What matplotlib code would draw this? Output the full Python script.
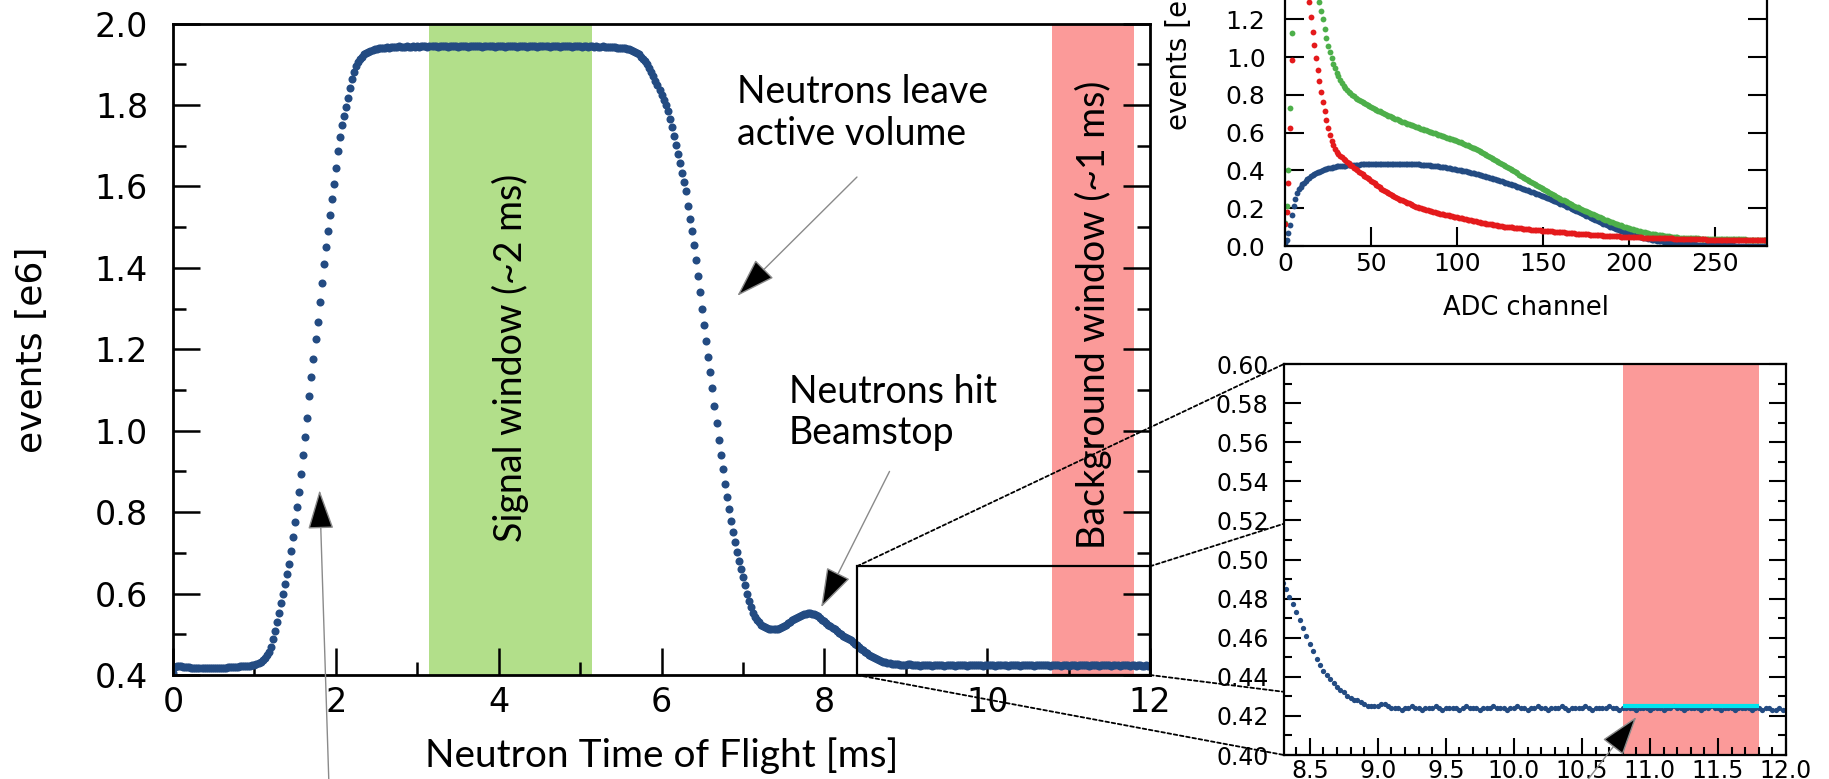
import numpy as np
import matplotlib
matplotlib.use("Agg")
import matplotlib.pyplot as plt
from matplotlib.patches import Rectangle, ConnectionPatch
from matplotlib.ticker import MultipleLocator, FormatStrFormatter

plt.rcParams['font.family'] = ['DejaVu Sans']

# ---------------- data ----------------
# neutron time of flight spectrum, 25 us bins starting at 0, counts in 1e3 events
bin_ms = 0.025
tof_counts = [
    405, 419, 421, 422, 421, 420, 420, 419, 419, 418,
    418, 418, 417, 417, 417, 417, 416, 416, 417, 417,
    417, 417, 418, 417, 418, 418, 418, 419, 419, 419,
    420, 420, 420, 421, 421, 422, 422, 423, 423, 424,
    425, 427, 430, 433, 437, 442, 448, 457, 470, 488,
    508, 530, 553, 576, 600, 624, 648, 673, 704, 738,
    775, 812, 850, 893, 940, 984, 1032, 1085, 1132, 1176,
    1224, 1268, 1315, 1362, 1410, 1452, 1490, 1530, 1570, 1606,
    1644, 1688, 1722, 1750, 1774, 1795, 1818, 1842, 1864, 1882,
    1896, 1906, 1913, 1919, 1924, 1928, 1931, 1933, 1935, 1937,
    1938, 1939, 1940, 1941, 1941, 1942, 1941, 1942, 1943, 1942,
    1943, 1944, 1943, 1942, 1943, 1944, 1943, 1943, 1944, 1943,
    1944, 1943, 1944, 1945, 1944, 1943, 1944, 1944, 1945, 1944,
    1943, 1944, 1945, 1944, 1944, 1943, 1944, 1945, 1945, 1944,
    1943, 1944, 1944, 1945, 1944, 1943, 1944, 1945, 1944, 1944,
    1945, 1944, 1943, 1944, 1944, 1945, 1944, 1944, 1943, 1944,
    1944, 1945, 1944, 1943, 1944, 1944, 1945, 1944, 1944, 1943,
    1944, 1945, 1944, 1944, 1943, 1944, 1944, 1945, 1944, 1943,
    1944, 1944, 1945, 1944, 1944, 1943, 1944, 1945, 1944, 1944,
    1943, 1944, 1944, 1945, 1944, 1944, 1943, 1944, 1944, 1944,
    1944, 1943, 1944, 1944, 1943, 1944, 1944, 1943, 1944, 1943,
    1943, 1944, 1943, 1943, 1942, 1943, 1942, 1942, 1941, 1941,
    1940, 1940, 1939, 1938, 1937, 1935, 1933, 1931, 1928, 1924,
    1919, 1914, 1908, 1900, 1891, 1881, 1870, 1859, 1848, 1837,
    1825, 1813, 1800, 1785, 1765, 1745, 1723, 1702, 1680, 1658,
    1634, 1610, 1588, 1553, 1520, 1490, 1455, 1420, 1380, 1340,
    1300, 1260, 1220, 1180, 1145, 1105, 1060, 1018, 978, 940,
    905, 870, 838, 808, 778, 752, 727, 703, 680, 660,
    640, 620, 600, 582, 566, 553, 543, 535, 529, 524,
    520, 517, 515, 513, 512, 512, 512, 513, 515, 517,
    520, 523, 527, 530, 534, 537, 540, 543, 546, 548,
    550, 551, 552, 552, 551, 550, 547, 544, 540, 536,
    532, 528, 524, 520, 516, 512, 508, 504, 501, 497,
    494, 491, 488, 485, 481, 477, 473, 469, 465, 461,
    457, 453, 449, 446, 443, 441, 439, 437, 435, 433,
    432, 430, 429, 428, 428, 427, 426, 425, 425, 425,
    425, 426, 426, 425, 424, 424, 424, 423, 424, 424,
    425, 424, 424, 423, 424, 424, 424, 425, 424, 423,
    424, 424, 424, 424, 423, 424, 425, 424, 424, 424,
    423, 424, 424, 424, 425, 424, 424, 424, 423, 424,
    424, 425, 424, 424, 423, 424, 424, 425, 424, 424,
    423, 424, 424, 424, 425, 424, 423, 424, 424, 424,
    424, 425, 424, 423, 424, 424, 424, 424, 425, 424,
    424, 423, 424, 424, 424, 424, 423, 424, 424, 424,
    423, 424, 424, 424, 423, 424, 424, 425, 424, 424,
    423, 424, 424, 424, 424, 423, 424, 424, 425, 424,
    424, 423, 424, 424, 424, 423, 424, 424, 424, 424,
    423, 424, 424, 423, 424, 424, 423, 423, 424, 423,
    423,
]

# pulse height spectra, one value per ADC channel 0..280, in 1e3 events
adc_signal_window = [
    120, 212, 402, 728, 1125, 1480, 1740, 1890, 1950, 1960,
    1930, 1880, 1820, 1750, 1680, 1610, 1540, 1470, 1410, 1350,
    1290, 1245, 1200, 1150, 1100, 1060, 1025, 993, 965, 940,
    917, 897, 879, 863, 849, 837, 826, 816, 807, 799,
    792, 785, 779, 773, 767, 762, 757, 752, 747, 742,
    737, 732, 727, 722, 717, 712, 707, 703, 699, 694,
    690, 686, 682, 678, 674, 670, 666, 662, 658, 655,
    652, 648, 645, 642, 638, 635, 631, 628, 624, 621,
    618, 615, 612, 608, 605, 602, 599, 596, 593, 590,
    586, 583, 580, 577, 574, 571, 568, 565, 562, 559,
    555, 552, 548, 545, 541, 537, 533, 529, 525, 521,
    516, 511, 506, 502, 497, 492, 487, 482, 477, 472,
    467, 462, 456, 451, 446, 440, 435, 429, 424, 419,
    414, 408, 402, 396, 390, 384, 378, 372, 366, 360,
    355, 349, 343, 338, 332, 327, 321, 316, 311, 305,
    300, 295, 290, 285, 280, 275, 270, 265, 260, 255,
    250, 245, 241, 236, 231, 227, 222, 218, 213, 209,
    204, 200, 196, 191, 187, 183, 179, 175, 171, 167,
    163, 159, 155, 151, 147, 143, 139, 136, 132, 129,
    125, 122, 118, 115, 112, 109, 106, 103, 100, 97,
    94, 91, 88, 86, 83, 80, 78, 76, 74, 72,
    70, 68, 66, 64, 63, 61, 60, 58, 57, 56,
    54, 53, 52, 51, 50, 49, 48, 47, 46, 45,
    45, 44, 43, 43, 42, 42, 41, 41, 40, 40,
    40, 39, 39, 39, 38, 38, 38, 38, 37, 37,
    37, 37, 37, 36, 36, 36, 36, 36, 36, 35,
    35, 35, 35, 35, 35, 35, 35, 35, 34, 34,
    34, 34, 34, 34, 34, 34, 34, 34, 34, 34, 34,
]
adc_background = [
    116, 181, 335, 623, 984, 1450, 1850, 2100, 2200, 2150,
    1950, 1780, 1600, 1440, 1290, 1210, 1135, 1062, 995, 932,
    872, 815, 762, 712, 666, 624, 588, 558, 533, 514,
    498, 488, 478, 469, 461, 453, 445, 437, 430, 422,
    415, 408, 401, 394, 387, 380, 373, 366, 359, 352,
    345, 338, 331, 324, 317, 310, 304, 298, 292, 286,
    280, 275, 270, 265, 260, 255, 250, 246, 242, 238,
    234, 229, 225, 221, 217, 213, 209, 205, 202, 199,
    197, 194, 192, 189, 187, 185, 182, 180, 177, 175,
    172, 170, 168, 166, 164, 162, 160, 158, 156, 154,
    152, 150, 148, 146, 144, 142, 140, 138, 136, 134,
    132, 130, 128, 126, 124, 122, 120, 118, 117, 115,
    114, 112, 111, 109, 108, 106, 105, 103, 102, 101,
    100, 99, 98, 97, 96, 95, 94, 93, 92, 91,
    90, 89, 88, 87, 86, 85, 84, 84, 83, 82,
    81, 80, 80, 79, 78, 77, 76, 76, 75, 74,
    73, 72, 72, 71, 70, 69, 68, 68, 67, 66,
    65, 64, 64, 63, 62, 61, 61, 60, 59, 58,
    58, 57, 57, 56, 56, 55, 55, 54, 54, 53,
    53, 52, 52, 51, 51, 50, 50, 49, 49, 48,
    48, 48, 47, 47, 47, 46, 46, 46, 45, 45,
    45, 44, 44, 44, 43, 43, 43, 42, 42, 42,
    41, 41, 41, 40, 40, 40, 39, 39, 39, 38,
    38, 38, 38, 37, 37, 37, 37, 36, 36, 36,
    36, 35, 35, 35, 35, 34, 34, 34, 34, 33,
    33, 33, 33, 33, 32, 32, 32, 32, 32, 32,
    31, 31, 31, 31, 31, 31, 31, 30, 30, 30,
    30, 30, 30, 30, 30, 30, 30, 30, 30, 30, 30,
]
adc_difference = [
    16, 32, 67, 111, 165, 210, 250, 279, 300, 314,
    326, 336, 345, 353, 361, 368, 374, 380, 385, 390,
    394, 398, 402, 405, 408, 411, 413, 415, 417, 419,
    421, 422, 423, 424, 425, 426, 427, 428, 429, 429,
    430, 430, 431, 431, 432, 432, 432, 433, 433, 433,
    434, 434, 434, 434, 435, 435, 435, 435, 435, 435,
    436, 436, 436, 436, 436, 436, 436, 436, 435, 435,
    435, 435, 434, 434, 434, 433, 433, 433, 432, 431,
    431, 430, 429, 428, 427, 426, 425, 424, 423, 421,
    420, 419, 417, 416, 414, 413, 411, 409, 408, 406,
    404, 403, 401, 399, 397, 395, 392, 390, 388, 386,
    384, 381, 379, 377, 374, 372, 369, 367, 364, 361,
    359, 357, 354, 351, 348, 345, 342, 339, 336, 333,
    330, 327, 324, 321, 318, 314, 311, 308, 304, 301,
    298, 294, 291, 287, 284, 281, 277, 274, 270, 267,
    263, 259, 256, 252, 248, 244, 240, 236, 232, 228,
    224, 220, 216, 212, 208, 204, 200, 196, 191, 187,
    183, 178, 174, 170, 166, 161, 157, 153, 149, 144,
    140, 136, 132, 128, 123, 119, 115, 111, 107, 103,
    99, 95, 91, 88, 84, 81, 78, 75, 72, 69,
    66, 63, 60, 57, 54, 51, 49, 46, 44, 42,
    40, 38, 36, 34, 32, 30, 28, 27, 25, 24,
    22, 21, 20, 19, 18, 17, 16, 15, 14, 13,
    12, 11, 11, 10, 10, 9, 9, 8, 8, 7,
    7, 7, 6, 6, 6, 5, 5, 5, 5, 4,
    4, 4, 4, 4, 3, 3, 3, 3, 3, 3,
    3, 2, 2, 2, 2, 2, 2, 2, 2, 2,
    2, 2, 2, 1, 1, 1, 1, 1, 1, 1, 1,
]

signal_window = (3.15, 5.15)       # ms
background_window = (10.8, 11.8)   # ms
background_level = 0.4253          # e6, mean in background window
zoom_tof = (8.4, 12.0)
zoom_events = (0.4, 0.667)

BLUE = '#234b82'
GREEN_BAND = '#b2df8a'
RED_BAND = '#fb9a99'
NOTE_FONT = ['Lato', 'DejaVu Sans']

tof = np.arange(len(tof_counts)) * bin_ms
events = np.array(tof_counts) / 1000.0
adc = np.arange(len(adc_signal_window))


def pointer(axis, head, tail):
    # thin grey line with a black filled head
    axis.annotate('', xy=head, xytext=tail, annotation_clip=False,
                  arrowprops=dict(arrowstyle='-|>,head_length=1.1,head_width=0.36',
                                  mutation_scale=23, fc='black', ec='#8a8a8a',
                                  lw=1.0, shrinkA=0, shrinkB=0))


fig = plt.figure(figsize=(18.29, 7.79), dpi=100)

# ---------------- main time of flight panel ----------------
ax = fig.add_axes([0.0946, 0.1335, 0.5342, 0.8363])
ax.axvspan(*signal_window, color=GREEN_BAND, lw=0, zorder=0)
ax.axvspan(*background_window, color=RED_BAND, lw=0, zorder=0)
ax.plot(tof, events, 'o', ms=5.8, color=BLUE, mec='none', zorder=2)
ax.set_xlim(0, 12)
ax.set_ylim(0.4, 2.0)
ax.xaxis.set_major_locator(MultipleLocator(2))
ax.xaxis.set_minor_locator(MultipleLocator(1))
ax.yaxis.set_major_locator(MultipleLocator(0.2))
ax.yaxis.set_minor_locator(MultipleLocator(0.1))
ax.yaxis.set_major_formatter(FormatStrFormatter('%.1f'))
ax.tick_params(which='both', direction='in', top=False, right=True, width=1.8,
               labelsize=24)
ax.tick_params(which='major', length=19.5)
ax.tick_params(which='minor', length=9.7)
ax.tick_params(axis='y', pad=18)
ax.tick_params(axis='x', pad=8)
for sp in ax.spines.values():
    sp.set_linewidth(2)
ax.set_xlabel('Neutron Time of Flight [ms]', family=NOTE_FONT, fontsize=28)
ax.xaxis.set_label_coords(0.5, -0.095)
ax.set_ylabel('events [e6]', fontsize=26)
ax.yaxis.set_label_coords(-0.127, 0.5)

ax.text(np.mean(signal_window), 1.18, 'Signal window (~2 ms)', rotation=90,
        ha='center', va='center', family=NOTE_FONT, fontsize=27, zorder=3)
ax.text(11.3, 1.285, 'Background window (~1 ms)', rotation=90,
        ha='center', va='center', family=NOTE_FONT, fontsize=27, zorder=3)
ax.text(6.93, 1.875, 'Neutrons leave\nactive volume', ha='left', va='top',
        family=NOTE_FONT, fontsize=27)
ax.text(7.56, 1.14, 'Neutrons hit\nBeamstop', ha='left', va='top',
        family=NOTE_FONT, fontsize=27)
pointer(ax, (6.93, 1.331), (8.40, 1.623))
pointer(ax, (7.96, 0.566), (8.80, 0.90))
pointer(ax, (1.80, 0.854), (1.915, 0.13))

ax.add_patch(Rectangle((zoom_tof[0], zoom_events[0]), zoom_tof[1] - zoom_tof[0],
                       zoom_events[1] - zoom_events[0], fill=False, ec='black',
                       lw=1.6, zorder=4, clip_on=False))

# ---------------- zoomed tail panel ----------------
axb = fig.add_axes([0.702, 0.0308, 0.2745, 0.5019], zorder=3)
axb.axvspan(*background_window, color=RED_BAND, lw=0, zorder=0)
tail = tof >= 8.3
axb.plot(tof[tail], events[tail], 'o', ms=3.8, color=BLUE, mec='none', zorder=2)
axb.hlines(background_level, *background_window, color='#00e5ee', lw=3, zorder=3)
axb.set_xlim(8.31, 12.0)
axb.set_ylim(0.40, 0.60)
axb.xaxis.set_major_locator(MultipleLocator(0.5))
axb.xaxis.set_minor_locator(MultipleLocator(0.1))
axb.yaxis.set_major_locator(MultipleLocator(0.02))
axb.yaxis.set_minor_locator(MultipleLocator(0.01))
axb.xaxis.set_major_formatter(FormatStrFormatter('%.1f'))
axb.yaxis.set_major_formatter(FormatStrFormatter('%.2f'))
axb.tick_params(which='both', direction='in', top=False, right=True, width=1.5,
                labelsize=17)
axb.tick_params(which='major', length=12)
axb.tick_params(which='minor', length=6)
axb.tick_params(axis='y', pad=11)
axb.tick_params(axis='x', pad=3)
for sp in axb.spines.values():
    sp.set_linewidth(1.6)
pointer(axb, (10.9, 0.4195), (10.45, 0.379))

# dotted guides from the box to the zoomed panel
for corner_a, corner_b in [((zoom_tof[0], zoom_events[1]), (0, 1)),
                           ((zoom_tof[1], zoom_events[1]), (1, 1)),
                           ((zoom_tof[0], zoom_events[0]), (0, 0)),
                           ((zoom_tof[1], zoom_events[0]), (1, 0))]:
    con = ConnectionPatch(xyA=corner_a, coordsA=ax.transData,
                          xyB=corner_b, coordsB=axb.transAxes,
                          ls=(0, (2, 1.5)), lw=1.3, color='black', zorder=1)
    fig.add_artist(con)

# ---------------- ADC spectra panel ----------------
axt = fig.add_axes([0.7026, 0.6842, 0.2635, 0.4852])
axt.plot(adc, np.array(adc_difference) / 1000.0, 'o', ms=4.2, color=BLUE, mec='none')
axt.plot(adc, np.array(adc_signal_window) / 1000.0, 'o', ms=4.2, color='#4daf4a', mec='none')
axt.plot(adc, np.array(adc_background) / 1000.0, 'o', ms=4.2, color='#e41a1c', mec='none')
axt.set_xlim(0, 280)
axt.set_ylim(0, 2.0)
axt.xaxis.set_major_locator(MultipleLocator(50))
axt.yaxis.set_major_locator(MultipleLocator(0.2))
axt.yaxis.set_major_formatter(FormatStrFormatter('%.1f'))
axt.tick_params(direction='in', top=False, right=True, width=1.5, length=14,
                labelsize=18)
axt.tick_params(axis='y', pad=14)
axt.tick_params(axis='x', pad=4.5)
for sp in axt.spines.values():
    sp.set_linewidth(1.6)
axt.set_xlabel('ADC channel', fontsize=18.5)
axt.xaxis.set_label_coords(0.5, -0.13)
axt.set_ylabel('events [e6]', fontsize=20)
axt.yaxis.set_label_coords(-0.19, 0.517)

fig.savefig('out.png', dpi=100)
